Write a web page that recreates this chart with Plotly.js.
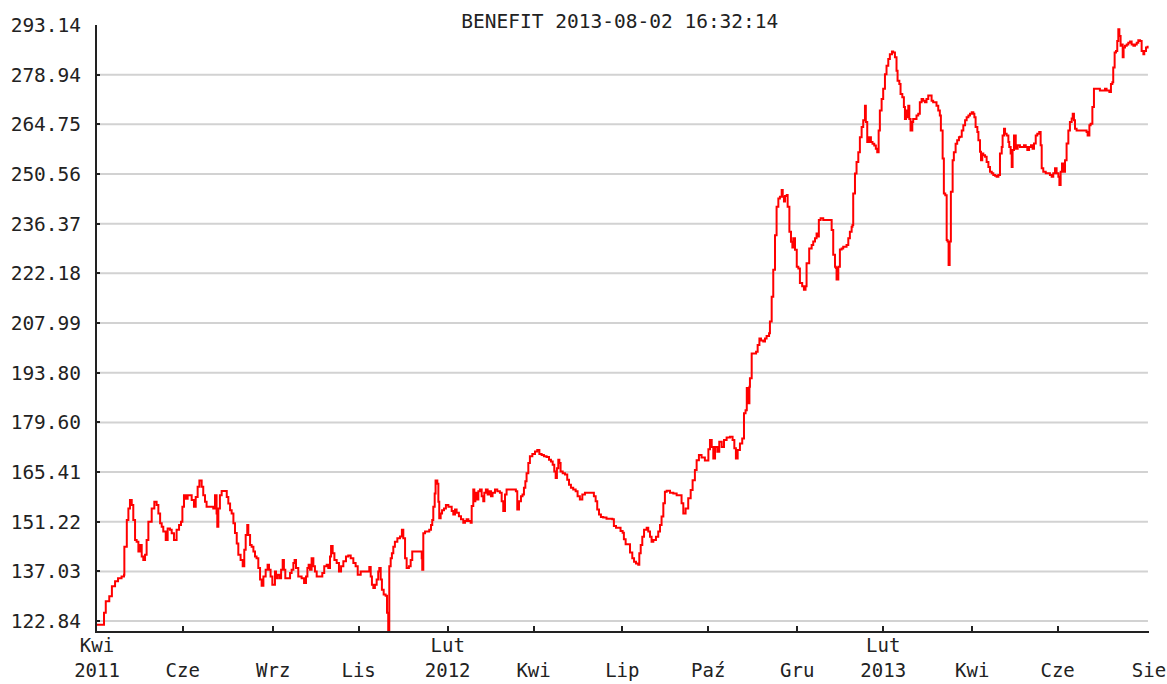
<!DOCTYPE html>
<html>
<head>
<meta charset="utf-8">
<script src="https://cdn.plot.ly/plotly-3.0.1.min.js"></script>
<style>
  html, body { margin: 0; padding: 0; background: #ffffff; }
  #chart { width: 1167px; height: 684px; }
</style>
</head>
<body>
<div id="chart"></div>
<script>
// Trading session index (0 = start of window, 600 = 2013-08-02) and closing values
const sessionsA = [
  0, 3, 4, 5, 7, 8.5, 10.3, 12, 14, 15.4,
  15.6, 17, 17.9, 18.8, 19.8, 20.7, 21.7, 22.6, 23.6, 24.5,
  25.5, 26.4, 27.4, 28.3, 29.3, 31.2, 32.7, 34, 35, 36,
  36.9, 37.8, 39.2, 40.3, 41.6, 42.6, 43.9, 45.4, 46.8, 47.9,
  48.7, 49.6, 50.6, 51.7, 53, 54, 55.3, 56.3, 57.4, 58.4,
  59.7, 60.6, 61.6, 62.5, 64.4, 66.3, 67.3, 68.2, 68.6, 69.2,
  70.1, 71.1, 73, 74, 74.9, 75.9, 76.8, 77.8, 78.7, 79.7,
  80.6, 81.9, 83.1, 84, 84.8, 85.7, 86.3, 87.3, 88.2, 89.2,
  90.1, 91, 92, 93, 93.9, 94.9, 96.2, 97.3, 98.1, 99,
  100, 101.5
];
const closeA = [
  121.8, 121.8, 125.2, 128.5, 129.9, 132.8, 134.2, 135.1, 135.6, 136.1,
  144.1, 151.7, 155.0, 157.4, 156.0, 151.7, 146.0, 145.5, 142.7, 144.6,
  141.3, 140.3, 141.8, 146.0, 151.2, 155.0, 156.9, 156.0, 153.6, 150.8,
  149.8, 148.4, 146.0, 149.3, 148.9, 147.9, 146.0, 148.9, 150.3, 151.2,
  155.5, 158.8, 157.8, 158.8, 158.8, 157.4, 155.5, 158.3, 161.2, 163.0,
  161.2, 158.8, 156.9, 155.5, 155.5, 155.0, 158.8, 153.6, 149.8, 155.0,
  158.8, 160.0, 160.0, 158.3, 156.4, 154.5, 153.6, 150.8, 148.0, 145.0,
  141.8, 140.3, 138.5, 143.2, 147.4, 150.3, 147.4, 144.6, 144.1, 142.7,
  141.3, 140.8, 138.0, 134.7, 132.9, 135.6, 137.5, 138.9, 137.5, 135.6,
  133.2, 137.0
];
const sessionsB = [
  102.1, 102.8, 104.0, 105.0, 105.9, 106.6, 107.4, 109.1, 110.1, 111.0,
  112.0, 112.7, 113.5, 114.8, 116.7, 118.1, 119.2, 120.0, 120.7, 121.5,
  122.4, 123.4, 124.3, 125.3, 127.2, 128.5, 129.6, 131.0, 131.9, 132.9,
  133.5, 134.4, 135.4, 136.7, 138.0, 139.2, 140.5, 142.0, 143.3, 144.7,
  146.2, 147.5, 148.7, 150.4, 152.5, 154.2, 155.3, 156.1, 156.8, 157.6,
  158.5, 159.5, 160.4, 161.0, 161.8, 162.5, 163.5, 164.6, 165.4, 166.1,
  166.7, 167.5, 168.2, 169.0, 169.9, 171.3, 172.8, 173.9, 174.7, 175.7,
  176.6, 177.9, 178.9, 179.8, 182.3, 184.2, 185.2, 185.5, 186.1, 187.1,
  188.4, 189.5, 190.5, 191.2, 191.8, 192.6, 193.1, 194.1, 194.7, 195.2,
  196.0, 196.8, 197.9, 199.0, 200.4
];
const closeB = [
  135.1, 136.1, 135.1, 137.5, 140.3, 137.5, 135.1, 135.1, 136.6, 137.5,
  139.4, 140.3, 138.0, 135.6, 135.1, 133.7, 135.6, 138.0, 138.9, 137.5,
  140.8, 138.5, 137.0, 135.6, 135.6, 136.6, 138.5, 138.9, 138.0, 141.3,
  144.3, 142.2, 140.3, 139.4, 137.0, 138.5, 139.9, 141.3, 141.6, 140.8,
  139.4, 138.5, 136.1, 137.0, 137.0, 137.0, 138.3, 135.6, 133.2, 132.3,
  133.2, 134.7, 137.0, 138.0, 134.7, 131.8, 130.4, 130.1, 125.2, 119.5,
  138.5, 140.8, 142.2, 144.1, 145.5, 146.5, 147.0, 148.9, 146.5, 140.8,
  138.0, 138.5, 140.3, 142.7, 142.7, 142.7, 140.8, 137.5, 147.9, 148.4,
  148.4, 148.9, 150.3, 151.7, 155.5, 159.3, 163.0, 162.1, 156.9, 152.2,
  153.6, 154.5, 155.0, 156.0, 155.5
];
const sessionsC = [
  202.3, 203.2, 204.2, 205.1, 206.4, 207.6, 208.9, 209.9, 210.8, 211.8,
  213.1, 213.7, 214.6, 215.2, 215.8, 216.5, 217.5, 218.4, 219.4, 220.3,
  220.9, 221.8, 222.8, 223.7, 224.7, 225.6, 227.0, 228.3, 229.8, 230.8,
  231.7, 232.7, 233.6, 235.5, 237.4, 238.9, 239.7, 240.7, 241.8, 242.7,
  243.5, 244.3, 245.0, 246.0, 246.9, 248.3, 249.8, 251.1, 252.3, 253.6,
  254.9, 256.4, 257.8, 258.9, 259.9, 260.8, 261.6, 262.3, 263.1, 263.7,
  264.4, 265.6, 266.9, 268.2, 269.2, 270.3, 271.6, 273.0, 274.1, 275.4,
  276.8, 278.3, 280.2, 282.1, 283.4, 284.4, 285.3, 286.3, 287.4, 288.7,
  290.6, 292.6, 293.9, 294.8, 296.0, 297.3, 298.6, 299.8, 300.5, 301.5,
  303.0, 304.0
];
const closeC = [
  154.3, 153.3, 154.7, 153.8, 152.8, 151.9, 150.9, 151.4, 151.9, 151.4,
  150.9, 155.7, 160.4, 157.1, 159.5, 157.6, 159.9, 160.4, 158.5, 157.1,
  159.5, 160.4, 159.0, 159.9, 158.5, 159.5, 160.4, 159.9, 159.5, 157.1,
  154.3, 159.0, 160.4, 160.4, 160.4, 159.9, 154.7, 157.1, 158.5, 159.0,
  160.9, 162.8, 165.1, 168.0, 169.9, 170.6, 171.3, 171.7, 170.6, 170.3,
  169.9, 169.7, 168.9, 168.4, 167.5, 165.6, 163.7, 166.5, 168.9, 168.0,
  165.6, 165.1, 164.7, 163.2, 161.8, 160.9, 160.4, 159.9, 158.5, 157.6,
  159.0, 159.5, 159.5, 159.5, 158.5, 157.1, 154.7, 153.3, 152.6, 152.4,
  152.1, 152.1, 151.9, 150.0, 149.5, 149.5, 148.6, 148.1, 146.2, 144.8,
  144.8, 142.4
];
const sessionsD = [
  305.3, 306.3, 307.4, 308.7, 309.3, 310.1, 311.0, 312.0, 313.5, 314.4,
  315.4, 316.3, 317.3, 318.8, 320.1, 321.1, 322.0, 323.0, 323.9, 324.9,
  326.8, 328.7, 330.6, 332.5, 333.4, 334.4, 335.7, 337.2, 338.6, 339.7,
  341.0, 342.0, 343.3, 344.8, 346.7, 348.7, 349.6, 350.6, 351.5, 352.5,
  353.8, 354.9, 356.3, 357.6, 359.1, 361.0, 362.5, 363.5, 364.4, 365.4,
  366.7, 368.0, 369.0, 369.9, 370.6
];
const closeD = [
  140.8, 139.8, 139.3, 138.9, 142.2, 144.6, 146.9, 148.9, 149.5, 148.4,
  146.9, 145.5, 146.0, 146.9, 148.4, 150.3, 152.7, 156.5, 159.8, 160.1,
  159.5, 159.3, 158.8, 158.8, 156.5, 153.6, 155.0, 157.9, 160.3, 163.1,
  166.0, 168.8, 170.3, 169.6, 168.7, 171.9, 174.6, 172.6, 169.3, 172.6,
  171.2, 174.1, 172.6, 174.6, 175.3, 175.5, 174.6, 172.2, 169.3, 171.7,
  173.6, 175.0, 182.2, 183.1, 189.4
];
const sessionsE = [
  371.1, 371.7, 372.1, 372.4, 373.4, 375.9, 376.8, 377.8, 378.7, 380.0,
  381.0, 381.9, 383.3, 383.8, 384.8, 385.7, 386.7, 387.6, 388.6, 389.5,
  390.5, 391.1, 391.8, 392.4, 393.4, 393.9, 394.9, 395.8, 396.6, 397.1,
  398.1, 399.1, 400.0
];
const closeE = [
  187.9, 185.1, 189.8, 192.2, 199.3, 199.8, 201.7, 203.6, 203.0, 202.7,
  203.6, 204.3, 205.1, 208.4, 215.5, 223.2, 233.1, 241.2, 243.6, 244.1,
  246.0, 244.1, 242.7, 244.3, 244.6, 241.2, 234.1, 231.2, 229.6, 232.2,
  228.9, 224.1, 223.6
];
const sessionsF = [
  400.9, 402.2, 403.2, 404.1, 404.7, 405.7, 406.2, 407.6, 408.5, 409.5,
  410.4, 411.0, 411.7, 412.7, 414.2, 416.1, 418.0, 419.0, 419.9, 420.9,
  421.4, 421.8, 422.8, 423.7, 424.7, 425.6, 426.6, 427.5, 428.5, 429.4,
  430.4, 430.9, 431.3, 432.3, 433.2, 434.2, 435.1, 436.1, 437.0, 438.0,
  438.5, 439.3, 440.4, 441.4, 442.3, 443.3, 444.2, 445.0, 445.8, 446.5,
  447.5, 448.4, 449.4, 450.3, 451.3, 452.2, 453.4, 454.1, 455.1, 456.0,
  456.6, 457.6, 458.3, 459.3, 460.2, 460.8, 461.4, 461.9, 462.7, 463.3,
  464.0, 465.0, 465.5, 466.5, 467.4, 468.4, 469.3, 470.3, 471.2, 472.2,
  473.1, 474.1, 475.0, 476.0, 476.9, 477.9, 478.8, 479.8, 480.7, 481.3,
  482.3, 483.0, 483.8, 484.6, 485.1, 485.7, 486.3, 487.0, 488.0, 488.7,
  489.7, 490.6, 491.6
];
const closeF = [
  219.4, 218.5, 217.5, 218.5, 225.1, 225.1, 229.3, 230.3, 231.3, 232.2,
  233.6, 232.7, 237.4, 237.9, 237.4, 237.4, 237.4, 234.6, 227.5, 224.1,
  223.7, 220.4, 224.1, 229.0, 229.3, 229.8, 229.8, 230.3, 232.2, 234.1,
  235.5, 236.0, 245.0, 250.7, 254.0, 256.8, 261.1, 264.0, 265.9, 270.1,
  265.4, 259.7, 261.1, 259.7, 259.2, 258.7, 257.8, 256.8, 263.0, 268.7,
  272.0, 274.9, 279.1, 281.5, 283.4, 284.8, 285.6, 285.3, 283.9, 280.1,
  277.2, 276.3, 273.4, 272.5, 269.7, 266.3, 268.7, 266.8, 270.1, 266.3,
  263.0, 265.4, 266.3, 266.3, 267.3, 267.8, 271.1, 272.0, 271.5, 271.1,
  272.0, 273.0, 273.0, 271.5, 271.1, 271.1, 270.1, 268.7, 267.3, 263.0,
  255.0, 245.0, 244.5, 231.7, 231.3, 224.6, 231.3, 245.5, 254.5, 256.8,
  259.2, 260.2, 261.1
];
const sessionsG = [
  492.2, 493.2, 494.1, 495.1, 496.0, 497.0, 497.9, 498.9, 499.8, 500.4,
  501.1, 502.1, 502.7, 503.6, 504.2, 504.9, 505.5, 506.5, 507.4, 508.4,
  509.3, 510.3, 511.2, 512.2, 513.1, 514.1, 515.0, 516.0, 516.5, 517.3,
  517.9, 518.8, 519.8, 520.3, 521.1, 521.7, 522.2, 523.0, 524.0, 525.1,
  526.4, 527.8, 528.7, 529.7, 530.6, 531.6, 532.7, 533.6, 534.4, 535.4,
  536.3, 537.4, 538.2, 538.8, 539.7, 541.1, 542.6, 543.5, 544.5, 545.4,
  546.4, 547.3, 548.3, 548.9, 549.6, 550.4, 551.1, 552.1, 553.0, 554.0,
  554.9, 555.9, 556.5, 557.2, 557.8, 558.7, 560.6, 562.5, 564.4, 565.0,
  566.0, 566.7, 567.7, 568.6, 570.1, 572.0, 574.0, 574.9, 575.8, 577.4,
  578.3, 579.1, 579.6, 580.4, 581.2, 581.9, 582.5, 583.1, 583.8, 584.4,
  585.0, 585.5, 586.3, 587.3, 588.2, 589.2, 590.1, 591.1, 592.0, 593.0,
  593.9, 594.9, 595.8, 596.8, 597.3, 598.3, 599.2
];
const closeG = [
  261.2, 263.0, 264.5, 265.9, 266.8, 267.3, 267.8, 268.2, 267.8, 266.8,
  264.0, 262.6, 260.2, 256.9, 254.5, 256.4, 255.9, 255.5, 254.0, 252.6,
  251.2, 250.8, 250.3, 250.1, 249.8, 250.3, 256.4, 258.3, 261.6, 263.5,
  262.1, 261.6, 259.7, 258.3, 256.4, 252.6, 257.4, 261.6, 257.8, 258.8,
  258.3, 258.3, 258.8, 258.3, 257.4, 258.3, 258.8, 257.8, 259.3, 261.6,
  262.1, 262.6, 258.8, 252.2, 251.2, 250.8, 250.8, 250.3, 249.8, 250.8,
  252.2, 250.8, 249.8, 247.4, 251.2, 253.6, 251.2, 254.5, 259.3, 263.0,
  265.4, 266.4, 267.8, 265.9, 263.5, 263.0, 263.0, 263.0, 262.6, 261.6,
  264.5, 264.9, 269.7, 274.9, 274.9, 274.4, 274.4, 274.9, 274.4, 274.0,
  276.3, 276.8, 281.0, 285.3, 285.7, 288.6, 291.9, 290.0, 287.2, 287.6,
  283.9, 286.7, 287.2, 287.6, 288.1, 288.4, 287.6, 287.2, 287.6, 288.1,
  288.8, 288.6, 285.7, 284.8, 285.7, 286.7, 287.2
];

// Axis ticks
const xTickVals = [0, 48.9, 100.5, 149.2, 200, 249, 299.6, 348.6, 399.4, 448.4, 499.2, 547.9, 600];
const xTickText = ['Kwi<br>2011', ' <br>Cze', ' <br>Wrz', ' <br>Lis', 'Lut<br>2012', ' <br>Kwi', ' <br>Lip',
                   ' <br>Paź', ' <br>Gru', 'Lut<br>2013', ' <br>Kwi', ' <br>Cze', ' <br>Sie'];
const yTickVals = [122.84, 137.03, 151.22, 165.41, 179.60, 193.80, 207.99, 222.18, 236.37, 250.56, 264.75, 278.94, 293.14];
const yTickText = ['122.84', '137.03', '151.22', '165.41', '179.60', '193.80', '207.99', '222.18', '236.37', '250.56', '264.75', '278.94', '293.14'];

const titleText = 'BENEFIT 2013-08-02 16:32:14';

const sessions = [].concat(sessionsA, sessionsB, sessionsC, sessionsD, sessionsE, sessionsF, sessionsG);
const closes = [].concat(closeA, closeB, closeC, closeD, closeE, closeF, closeG);
if (sessions.length !== closes.length) {
  throw new Error('length mismatch ' + sessions.length + ' vs ' + closes.length);
}

const FONT = 'DejaVu Sans Mono, Liberation Mono, monospace';
const yMin = 120.0, yMax = 293.14;

// Grid lines at every y tick except the top edge
const gridShapes = yTickVals.filter(v => v < yMax).map(v => ({
  type: 'line', xref: 'paper', yref: 'y', x0: 0, x1: 0.999, y0: v, y1: v,
  line: { color: '#d2d2d2', width: 2 }, layer: 'below'
}));

const trace = {
  type: 'scatter',
  mode: 'lines',
  x: sessions,
  y: closes,
  line: { color: '#ff0000', width: 2, shape: 'hv' },
  hoverinfo: 'skip'
};

const layout = {
  width: 1167,
  height: 684,
  margin: { l: 97, r: 18, t: 25, b: 53 },
  paper_bgcolor: '#ffffff',
  plot_bgcolor: '#ffffff',
  showlegend: false,
  title: {
    text: titleText,
    font: { family: FONT, size: 19.5, color: '#222222' },
    xref: 'paper', x: 0.497, xanchor: 'center',
    yref: 'container', y: 0.969, yanchor: 'middle'
  },
  xaxis: {
    type: 'linear',
    range: [0, 600],
    tickmode: 'array',
    tickvals: xTickVals,
    ticktext: xTickText,
    ticks: 'inside',
    ticklen: 5,
    tickwidth: 2,
    tickcolor: '#222222',
    showline: true,
    linewidth: 2,
    linecolor: '#222222',
    showgrid: false,
    zeroline: false,
    tickfont: { family: FONT, size: 19, color: '#222222' },
    ticklabelstandoff: -4,
    fixedrange: true
  },
  yaxis: {
    type: 'linear',
    range: [yMin, yMax],
    tickmode: 'array',
    tickvals: yTickVals,
    ticktext: yTickText,
    ticks: 'inside',
    ticklen: 3,
    tickwidth: 2,
    tickcolor: '#222222',
    showline: true,
    linewidth: 2,
    linecolor: '#222222',
    showgrid: false,
    zeroline: false,
    tickfont: { family: FONT, size: 19.5, color: '#222222' },
    ticklabelstandoff: 10,
    fixedrange: true
  },
  shapes: gridShapes
};

Plotly.newPlot('chart', [trace], layout, { displayModeBar: false, staticPlot: true });
</script>
</body>
</html>
